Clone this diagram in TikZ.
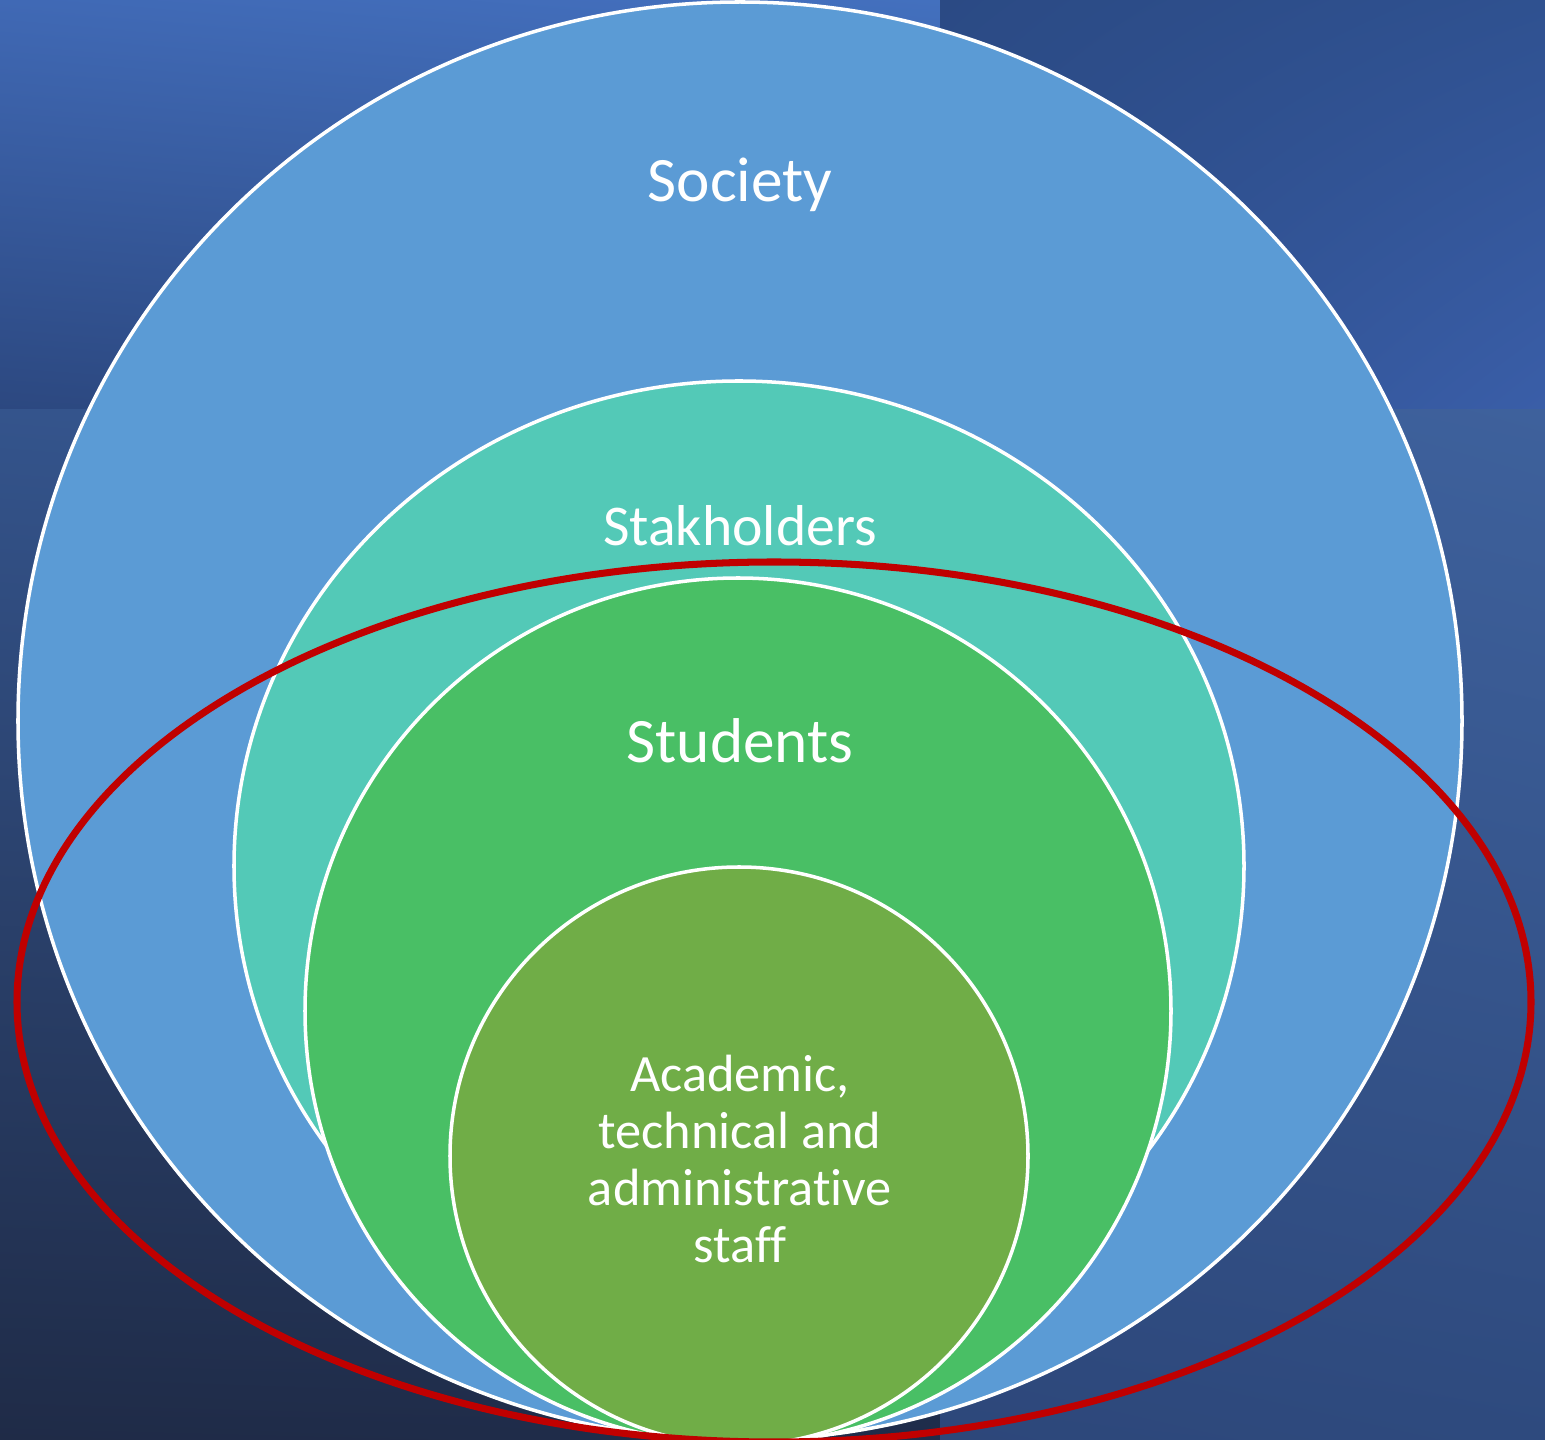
\documentclass[tikz,border=0pt]{standalone}
\usepackage{fontspec}
\setmainfont{Carlito}[Ligatures={NoCommon}]
\usetikzlibrary{shadings}
\definecolor{societyBlue}{HTML}{5B9BD5}
\definecolor{stakeTeal}{HTML}{53C9B7}
\definecolor{studentGreen}{HTML}{49BF65}
\definecolor{staffGreen}{HTML}{70AD47}
\definecolor{rimRed}{HTML}{C00000}
%% Corner colours of the background panels.
\definecolor{tlA}{HTML}{4069B5}\definecolor{tlB}{HTML}{4370BE}
\definecolor{tlC}{HTML}{2C4880}\definecolor{tlD}{HTML}{2E4E88}
\definecolor{trA}{HTML}{2B4A84}\definecolor{trB}{HTML}{2F5190}
\definecolor{trC}{HTML}{2E4F8E}\definecolor{trD}{HTML}{3A5EA8}
\definecolor{blA}{HTML}{34548C}\definecolor{blB}{HTML}{36578F}
\definecolor{blC}{HTML}{1F2B47}\definecolor{blD}{HTML}{1F2C4A}
\definecolor{brA}{HTML}{3C5D98}\definecolor{brB}{HTML}{3E619C}
\definecolor{brC}{HTML}{2D477A}\definecolor{brD}{HTML}{2E4A7E}
\newcommand{\myBackground}{%%
  %% Four shaded panels behind the rings.
  \shade[upper left=tlA,upper right=tlB,lower left=tlC,lower right=tlD]
    (0,0) rectangle (940,410);
  \shade[upper left=trA,upper right=trB,lower left=trC,lower right=trD]
    (940,0) rectangle (1545,410);
  \shade[upper left=blA,upper right=blB,lower left=blC,lower right=blD]
    (0,410) rectangle (940,1440);
  \shade[upper left=brA,upper right=brB,lower left=brC,lower right=brD]
    (940,410) rectangle (1545,1440);
}
\newcommand{\myRings}{%%
  %% Society
  \filldraw[ringStyle,fill=societyBlue] (centreSociety) ellipse[x radius=722,y radius=719];
  %% Stakholders
  \filldraw[ringStyle,fill=stakeTeal] (centreStake) ellipse[x radius=505,y radius=485];
  %% Students
  \filldraw[ringStyle,fill=studentGreen] (centreStudents) circle[radius=433];
  %% Staff
  \filldraw[ringStyle,fill=staffGreen] (centreStaff) circle[radius=289];
}

\begin{document}
\begin{tikzpicture}[%%
  x=0.01cm,y=-0.01cm,
  ringStyle/.style={draw=white,line width=1pt},
  labelStyle/.style={text=white,align=center,inner sep=0pt},
  rimStyle/.style={draw=rimRed,line width=2pt}
]
%%
%%
\useasboundingbox (0,0) rectangle (1545,1440);
\coordinate (centreSociety) at (740,721);
\coordinate (centreStake) at (739,866);
\coordinate (centreStudents) at (738,1011);
\coordinate (centreStaff) at (739,1156);
\coordinate (centreRim) at (774,1002);
%%
\myBackground
\myRings
%% Labels of the rings.
\node[labelStyle,anchor=base,font=\fontsize{18}{21.6}\selectfont] (society) at (740,202) {Society};
\node[labelStyle,anchor=base,font=\fontsize{16.4}{19.7}\selectfont] (stake) at (740,546) {Stakholders};
\node[labelStyle,anchor=base,font=\fontsize{18}{21.6}\selectfont] (students) at (740,763) {Students};
\node[labelStyle,font=\fontsize{14.9}{16.3}\selectfont] (staff) at (740,1159)
  {Academic,\\technical and\\administrative\\staff};
%% The red rim round the inner rings.
\draw[rimStyle] (centreRim) ellipse[x radius=757,y radius=440];
\end{tikzpicture}
\end{document}
